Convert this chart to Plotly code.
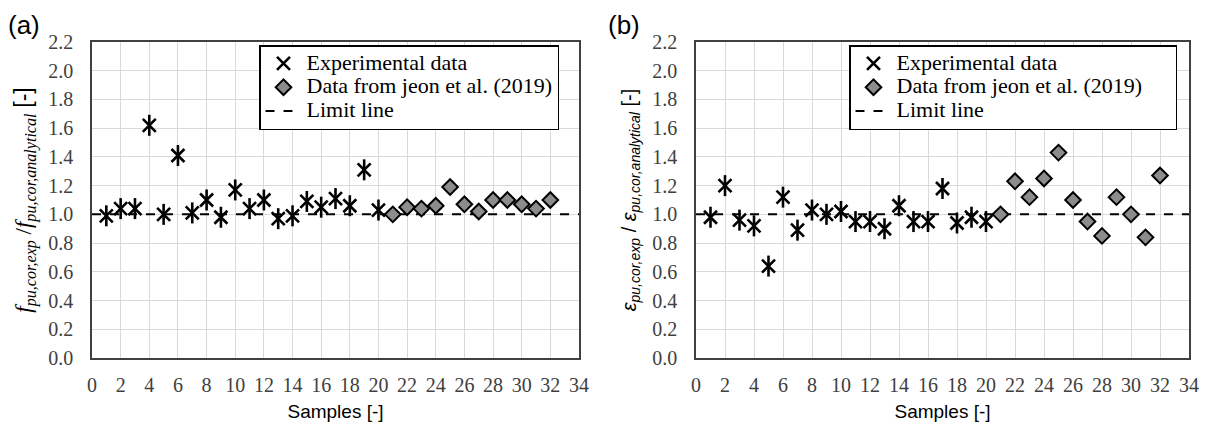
import plotly.graph_objects as go

# ---------------- data ----------------
exp_samples = list(range(1, 21))
jeon_samples = list(range(21, 33))

a_exp = [0.99, 1.04, 1.04, 1.62, 1.00, 1.41, 1.01, 1.10, 0.98, 1.17,
         1.04, 1.10, 0.97, 0.99, 1.09, 1.05, 1.11, 1.06, 1.31, 1.03]
a_jeon = [1.00, 1.05, 1.04, 1.06, 1.19, 1.07, 1.02, 1.10, 1.10, 1.07, 1.04, 1.10]

b_exp = [0.98, 1.20, 0.96, 0.92, 0.64, 1.12, 0.89, 1.03, 1.00, 1.02,
         0.95, 0.95, 0.90, 1.06, 0.95, 0.95, 1.18, 0.94, 0.98, 0.95]
b_jeon = [1.00, 1.23, 1.12, 1.25, 1.43, 1.10, 0.95, 0.85, 1.12, 1.00, 0.84, 1.27]

limit_x = [0, 34]
limit_y = [1.0, 1.0]

x_ticks = list(range(0, 35, 2))
y_ticks = [round(0.2 * i, 1) for i in range(12)]

names = ["Experimental data", "Data from jeon et al. (2019)", "Limit line"]

SERIF = "Times New Roman, Liberation Serif, serif"
SANS = "Arial, Liberation Sans, sans-serif"

W, H = 1208, 430
fig = go.Figure()


def leg_name(s, pad=0):
    return "<span style='font-size:22px'>" + s + "&nbsp;" * pad + "</span>"


panels = [
    ("x", "y", "legend", a_exp, a_jeon, 0),
    ("x2", "y2", "legend2", b_exp, b_jeon, 5),
]

for xa, ya, lg, ev, jv, pad in panels:
    fig.add_trace(go.Scatter(
        x=limit_x, y=limit_y, mode="lines", name=leg_name(names[2]),
        line=dict(color="black", width=2, dash="dash"),
        xaxis=xa, yaxis=ya, legend=lg, legendrank=3))
    fig.add_trace(go.Scatter(
        x=exp_samples, y=ev, mode="markers", name=leg_name(names[0]),
        marker=dict(symbol="x-thin-open", size=13, color="black",
                    line=dict(color="black", width=2.6)),
        xaxis=xa, yaxis=ya, legend=lg, legendrank=1))
    fig.add_trace(go.Scatter(
        x=exp_samples, y=ev, mode="markers", showlegend=False,
        marker=dict(symbol="line-ns-open", size=15, color="black",
                    line=dict(color="black", width=2.6)),
        xaxis=xa, yaxis=ya, hoverinfo="skip"))
    fig.add_trace(go.Scatter(
        x=jeon_samples, y=jv, mode="markers", name=leg_name(names[1], pad),
        marker=dict(symbol="diamond", size=12, color="#8c8c8c",
                    line=dict(color="black", width=2)),
        xaxis=xa, yaxis=ya, legend=lg, legendrank=2))

ydom = [1 - 358 / H, 1 - 42 / H]
axis_common = dict(
    showgrid=True, gridcolor="#d9d9d9", gridwidth=1,
    showline=True, linecolor="#404040", linewidth=1.5, mirror=True,
    zeroline=False, automargin=False,
    tickfont=dict(family=SERIF, size=20, color="#404040"),
)

xtitle = dict(text="Samples [-]", font=dict(family=SANS, size=19, color="black"),
              standoff=10)

legend_common = dict(
    y=1 - 45 / H, xanchor="left", yanchor="top",
    bgcolor="white", bordercolor="black", borderwidth=1.5,
    font=dict(family=SERIF, size=16, color="black"),
    tracegroupgap=0, itemwidth=36,
)

fig.update_layout(
    width=W, height=H,
    margin=dict(l=0, r=0, t=0, b=0, autoexpand=False),
    paper_bgcolor="white", plot_bgcolor="white",
    showlegend=True,
    xaxis=dict(domain=[92 / W, 579 / W], range=[0, 34], tickvals=x_ticks,
               ticks="outside", ticklen=8, tickcolor="rgba(0,0,0,0)",
               title=xtitle, anchor="y", **axis_common),
    yaxis=dict(domain=ydom, range=[0, 2.2], tickvals=y_ticks, tickformat=".1f",
               ticks="outside", ticklen=13, tickcolor="rgba(0,0,0,0)", anchor="x",
               title=dict(text="<i>f</i><sub><i>pu,cor,exp</i></sub> /<i>f</i><sub><i>pu,cor,analytical</i></sub> "
                               "<span style='font-family:Arial, Liberation Sans'>[-]</span>",
                          font=dict(family=SERIF, size=23, color="black"), standoff=10),
               **axis_common),
    xaxis2=dict(domain=[696 / W, 1189 / W], range=[0, 34], tickvals=x_ticks,
                ticks="outside", ticklen=8, tickcolor="rgba(0,0,0,0)",
                title=xtitle, anchor="y2", **axis_common),
    yaxis2=dict(domain=ydom, range=[0, 2.2], tickvals=y_ticks, tickformat=".1f",
                ticks="outside", ticklen=13, tickcolor="rgba(0,0,0,0)", anchor="x2",
                title=dict(text="<i>ε</i><sub><i>pu,cor,exp</i></sub> / <i>ε</i><sub><i>pu,cor,analytical</i></sub> [-]",
                           font=dict(family=SANS, size=20, color="black"), standoff=10),
                **axis_common),
    legend=dict(x=259 / W, **legend_common),
    legend2=dict(x=849 / W, **legend_common),
    annotations=[
        dict(text="(a)", x=6 / W, y=1 - 25 / H, xref="paper", yref="paper",
             xanchor="left", yanchor="middle", showarrow=False,
             font=dict(family=SANS, size=26, color="black")),
        dict(text="(b)", x=606 / W, y=1 - 25 / H, xref="paper", yref="paper",
             xanchor="left", yanchor="middle", showarrow=False,
             font=dict(family=SANS, size=26, color="black")),
    ],
)

fig.write_html("out.html",
               config={"displayModeBar": False},
               post_script="document.body.style.margin='0';document.body.style.padding='0';")
